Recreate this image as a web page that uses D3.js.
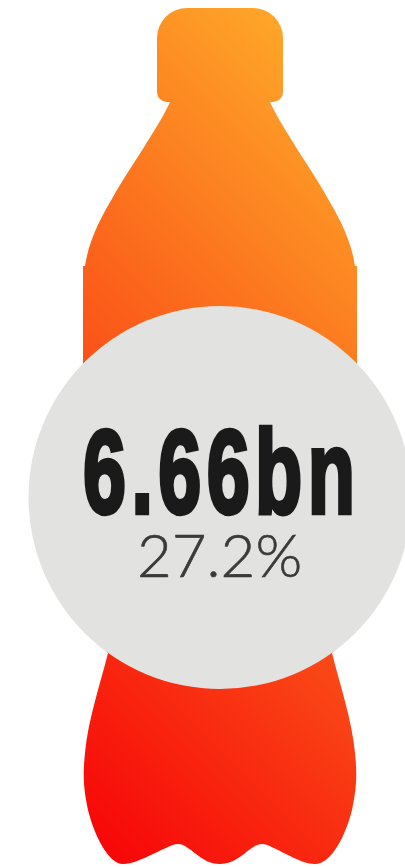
<!DOCTYPE html>
<html>

<head>
    <meta charset='utf-8' />
    <title>Bottle</title>
    <script src="https://cdn.jsdelivr.net/npm/d3@7"></script>
    <style>
        body {
            margin: 0;
            padding: 0;
            background: #fff;
        }

        svg {
            display: block;
        }
    </style>
</head>

<body>
    <div id='chart'></div>
    <script>
        var values = ["6.66bn"];
        var shares = ["27.2%"];
        var gradientColors = ["#f70709", "#ffb52b"];

        var width = 405, height = 867;

        // bottle outline
        var bottlePath = "M170 102 L167 102 A10 10 0 0 1 157 92 L157 38 A30 30 0 0 1 187 8 L253 8 A30 30 0 0 1 283 38 L283 92 A10 10 0 0 1 273 102 L270 102" +
            "C280 125 315 175 327 197 C340 219 351 240 355 266 L357 266 L357 630 L332 653" +
            "C340 685 352 720 355 753 C358 780 355 795 352 810 C346 834 332 864 315 864" +
            "C298 864 272 844 262 844 C250 844 240 864 220 864 C200 864 190 844 178 844" +
            "C168 844 140 864 123 864 C108 864 94 834 88 810 C85 795 82 780 85 753" +
            "C88 720 100 685 108 653 L83 630 L83 266 L85 266 C89 240 100 219 113 197 C125 175 160 125 170 102 Z";

        var svg = d3.select("#chart").append("svg")
            .attr("width", width)
            .attr("height", height);

        var grad = svg.append("defs").append("linearGradient")
            .attr("id", "bottleFill")
            .attr("gradientUnits", "userSpaceOnUse")
            .attr("x1", 105).attr("y1", 850)
            .attr("x2", 655).attr("y2", 300);

        grad.selectAll("stop")
            .data(gradientColors)
            .enter()
            .append("stop")
            .attr("offset", function (d, i) { return i; })
            .attr("stop-color", function (d) { return d; });

        svg.append("path")
            .attr("d", bottlePath)
            .attr("fill", "url(#bottleFill)");

        svg.append("circle")
            .attr("cx", 220)
            .attr("cy", 497.5)
            .attr("r", 191.5)
            .attr("fill", "#e2e2e1");

        // no condensed face installed, so squeeze the bold and space it out
        svg.selectAll(".value")
            .data(values)
            .enter()
            .append("text")
            .attr("class", "value")
            .attr("transform", "translate(83,512.5) scale(0.65,1)")
            .style("font-family", "'Liberation Sans', sans-serif")
            .style("font-weight", 700)
            .style("font-size", "119px")
            .style("letter-spacing", "8.3px")
            .style("fill", "#1a1a1a")
            .style("stroke", "#1a1a1a")
            .style("stroke-width", 4.5)
            .text(function (d) { return d; });

        svg.selectAll(".share")
            .data(shares)
            .enter()
            .append("text")
            .attr("class", "share")
            .attr("x", 137)
            .attr("y", 577)
            .style("font-family", "Lato, sans-serif")
            .style("font-weight", 300)
            .style("font-size", "60px")
            .style("fill", "#3a3a3a")
            .style("stroke", "#3a3a3a")
            .style("stroke-width", 0.6)
            .text(function (d) { return d; });
    </script>

</body>

</html>
